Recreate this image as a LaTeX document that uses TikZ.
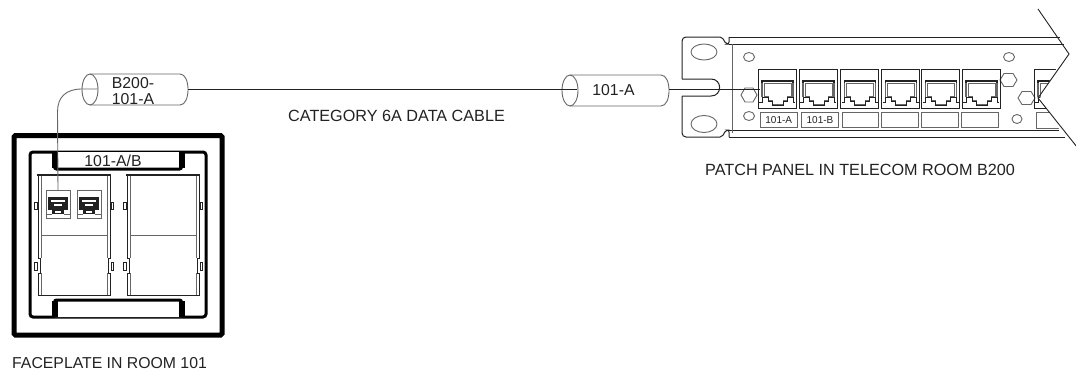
\documentclass[tikz,border=0pt]{standalone}
\usepackage{fontspec}
\setmainfont{Liberation Sans}
\usetikzlibrary{calc}
\definecolor{ink}{HTML}{222222}
\definecolor{midgray}{HTML}{666666}
\tikzset{
  lbl/.style={font=\fontsize{15.8}{17}\selectfont,text=ink,inner sep=0pt,anchor=base west},
  widelbl/.style={lbl,font=\fontsize{16.2}{17}\selectfont},
  tag/.style={font=\fontsize{10}{11}\selectfont,text=ink,inner sep=0pt},
  thinl/.style={draw=ink,line width=0.8pt},
  grayl/.style={draw=midgray,line width=0.9pt},
  boxl/.style={draw=midgray,line width=1pt},
  pics/rjack/.style={code={
    \draw[draw=ink,line width=1pt] (0,0) rectangle (38,39);
    \draw[draw=ink,line width=1.6pt] (4,20) -- (4,12) -- (35,12) -- (35,20);
    \draw[draw=midgray,line width=1pt,fill=white] (6,14) -- (33,14) -- (33,27) -- (29,27) -- (29,31) -- (25,31) -- (25,35) -- (14,35) -- (14,31) -- (10,31) -- (10,27) -- (6,27) -- cycle;
    \draw[draw=midgray,line width=1.6pt] (4,14) -- (4,28);
    \draw[draw=midgray,line width=1.6pt] (35,14) -- (35,28);
    \draw[draw=ink,line width=0.8pt] (1,33) -- (4,33) -- (4,28) -- (10,28) -- (10,32) -- (14,32) -- (14,36) -- (25,36) -- (25,32) -- (29,32) -- (29,28) -- (35,28) -- (35,33) -- (37,33);
  }},
  pics/sjack/.style={code={
    \draw[draw=midgray,line width=0.9pt] (0,0) rectangle (24,28);
    \fill[ink] (2,7) rectangle (22,20);
    \fill[ink] (6,20) rectangle (18,24);
    \fill[white] (5,10) rectangle (19,12);
    \fill[white] (8,14) rectangle (16,16);
    \fill[white] (9,21) rectangle (15,23);
    \draw[draw=midgray,line width=0.6pt] (0,24) -- (6,24) (18,24) -- (24,24);
  }},
  pics/module/.style={code={
    \draw[draw=ink,line width=1pt] (0,0) -- (0,83) -- (2,83) -- (2,98) -- (0,98) -- (0,120) -- (72,120) -- (72,98) -- (70,98) -- (70,83) -- (72,83) -- (72,0);
    \draw[draw=midgray,line width=0.9pt] (3,0) -- (3,83) (3,98) -- (3,120);
    \draw[draw=midgray,line width=0.9pt] (69,0) -- (69,83) (69,98) -- (69,120);
    \draw[draw=ink,line width=1.1pt] (-1,0) -- (73,0);
    \draw[draw=midgray,line width=0.9pt] (3,60) -- (69,60);
    \draw[draw=ink,line width=0.7pt,fill=white] (-4,27) rectangle (-1,34);
    \draw[draw=ink,line width=0.7pt,fill=white] (73,27) rectangle (75.5,34);
    \draw[draw=ink,line width=0.7pt,fill=white] (-4,87) rectangle (-1,95);
    \draw[draw=ink,line width=0.7pt,fill=white] (73,87) rectangle (75.5,95);
  }},
}
\begin{document}
\begin{tikzpicture}[x=1pt,y=-1pt]
\useasboundingbox (0,0) rectangle (1076,372);
% ---------- faceplate
\draw[draw=black,line width=5pt,rounded corners=1.5pt] (14,135.5) rectangle (222,335);
\draw[draw=black,line width=3pt,rounded corners=3pt] (30,152) rectangle (206,317);
\draw[fill=white,draw=black,line width=3pt,rounded corners=2pt] (54.5,152) -- (54.5,169) -- (181.5,169) -- (181.5,152);
\fill[black] (52,152) rectangle (57.5,168);
\fill[black] (179,152) rectangle (184.5,168);
\draw[fill=white,draw=black,line width=3pt,rounded corners=2pt] (54.5,317) -- (54.5,300) -- (181.5,300) -- (181.5,317);
\fill[black] (52,301) rectangle (57.5,317);
\fill[black] (179,301) rectangle (184.5,317);
\node[font=\fontsize{15.8}{17}\selectfont,text=ink,inner sep=0pt] (facelabel) at (113,161) {101-A/B};
\pic at (38,175) {module};
\pic at (127,175) {module};
\pic at (46,190) {sjack};
\pic at (77,190) {sjack};
\coordinate (faceport) at (58,190);
% ---------- cable marker B200-101-A
\coordinate (markAw) at (98,89);
\coordinate (markAe) at (188,89);
\draw[grayl,fill=white] (90,74) -- (180,74) .. controls (190.7,74) and (190.7,105) .. (180,105) -- (90,105);
\draw[grayl] (90,89.5) ellipse[x radius=8,y radius=15.5];
\node[lbl,anchor=center,align=center,font=\fontsize{15.8}{16.5}\selectfont] (markAtext) at (133,91) {B200-\\101-A};
% ---------- cable marker 101-A
\coordinate (markBw) at (577,89);
\coordinate (markBe) at (669,89);
\draw[grayl,fill=white] (570,75) -- (661,75) .. controls (671.7,75) and (671.7,106) .. (661,106) -- (570,106);
\draw[grayl] (570,90.5) ellipse[x radius=8,y radius=15.5];
\node[lbl,anchor=center] (markBtext) at (613.5,90) {101-A};
% ---------- patch panel
\draw[draw=ink,line width=1pt,rounded corners=4pt] (682,79) -- (682,37) -- (716,37);
\draw[draw=ink,line width=1pt] (682,79) -- (711,79) .. controls (722.5,79) and (722.5,96) .. (711,96) -- (682,96);
\draw[draw=ink,line width=1pt,rounded corners=4pt] (682,96) -- (682,137) -- (716,137);
\draw[draw=ink,line width=1pt,rounded corners=2pt] (716,37) -- (722,37) -- (726,44) -- (729,44) -- (729,37);
\draw[draw=ink,line width=1pt,rounded corners=2pt] (716,137) -- (722,137) -- (726,130) -- (729,130) -- (729,137);
\draw[draw=ink,line width=1pt] (729,37) -- (1060,37);
\draw[draw=ink,line width=1pt] (729,44) -- (1064,44);
\draw[draw=ink,line width=1pt] (729,130) -- (1059,130);
\draw[draw=ink,line width=1pt] (729,137) -- (1065,137);
\draw[draw=midgray,line width=1pt] (732,44) -- (732,133);
\draw[grayl] (704,52) ellipse[x radius=13,y radius=8];
\draw[grayl] (704,124) ellipse[x radius=13,y radius=8.5];
\draw[grayl] (749,57) ellipse[x radius=5.5,y radius=4.5];
\draw[grayl] (749,116) ellipse[x radius=5.5,y radius=4.5];
\draw[grayl] (1009,57) ellipse[x radius=5.5,y radius=4.5];
\draw[grayl] (1017,119) ellipse[x radius=5,y radius=4.5];
\draw[grayl] (741,95) -- (745,88) -- (753,88) -- (757,95) -- (753,102) -- (745,102) -- cycle;
\draw[grayl] (1000,80) -- (1004,73.5) -- (1013,73.5) -- (1017,80) -- (1013,86.5) -- (1004,86.5) -- cycle;
\draw[grayl] (1018,98) -- (1022,91.5) -- (1031,91.5) -- (1035,98) -- (1031,104.5) -- (1022,104.5) -- cycle;
% cable behind the first jack's edge
\coordinate (jackA) at (760,89);
\draw[thinl] (markBe) -- (jackA);
\pic at (758,69) {rjack};
\pic at (799,69) {rjack};
\pic at (840.5,69) {rjack};
\pic at (881.5,69) {rjack};
\pic at (921.5,69) {rjack};
\pic at (962,69) {rjack};
\foreach \nm/\xa/\xb/\tx in {t1/759.5/797/101-A,t2/801/838/101-B,t3/841.5/878/,t4/881/918/,t5/920.5/958/,t6/960.5/998/}{
  \node[draw=midgray,line width=1pt,tag,minimum height=15.5pt,minimum width={(\xb-\xa)*1pt},anchor=west] (\nm) at (\xa,120) {\tx};
}
% seventh jack, cut off by the break line
\begin{scope}
\clip (1034,60) -- (1061,60) -- (1040,98) -- (1066,140) -- (1030,140) -- cycle;
\pic at (1034,69) {rjack};
\draw[boxl] (1036,112) rectangle (1075,128);
\end{scope}
% break line
\coordinate (brA) at (1038,9);
\coordinate (brB) at (1069,54);
\coordinate (brC) at (1038,98);
\coordinate (brD) at (1077,147);
\draw[draw=ink,line width=0.9pt] (brA) -- (brB) -- (brC) -- (brD);
% ---------- cables
\draw[thinl] (markAe) -- (markBw);
\draw[grayl] (faceport) -- (57.5,112) .. controls (57.5,97) and (66,89) .. (82,89) -- (markAw);
% ---------- labels
\node[widelbl] (catlabel) at (288,121) {CATEGORY 6A DATA CABLE};
\node[widelbl] (patchlabel) at (705,175) {PATCH PANEL IN TELECOM ROOM B200};
\node[lbl] (facetitle) at (12,368) {FACEPLATE IN ROOM 101};
\end{tikzpicture}
\end{document}
